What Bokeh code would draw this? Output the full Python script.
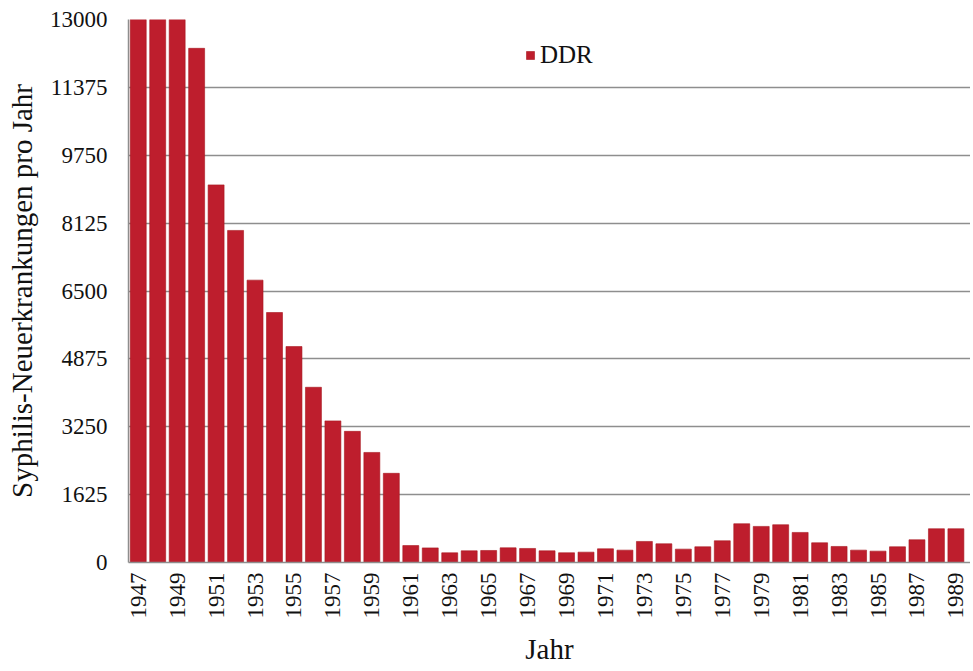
from bokeh.plotting import figure
from bokeh.models import Range1d, FixedTicker, Legend, LegendItem, ColumnDataSource
from bokeh.embed import file_html
from bokeh.resources import INLINE
import math

years = list(range(1947, 1990))
cases = [13000, 13000, 13000, 12310, 9040, 7950, 6760, 5985, 5170, 4195,
         3390, 3140, 2635, 2135, 405, 350, 232, 280, 288, 352,
         336, 280, 233, 248, 328, 296, 504, 448, 320, 376,
         520, 928, 864, 904, 720, 472, 384, 296, 272, 376,
         544, 808, 808]
y_ticks = [0, 1625, 3250, 4875, 6500, 8125, 9750, 11375, 13000]
x_ticks = list(range(1947, 1990, 2))

FONT = "Liberation Serif"
BAR = "#BE1E2D"
GRID = "#8E8E8E"

src = ColumnDataSource(dict(year=years, cases=cases))

p = figure(width=970, height=667, output_backend="svg", toolbar_location=None,
           x_range=Range1d(1946.5, 1989.75), y_range=Range1d(0, 13000),
           min_border_left=128, min_border_top=19, min_border_right=0,
           min_border_bottom=100)
p.outline_line_color = None
p.background_fill_color = "white"
p.border_fill_color = "white"

r = p.vbar(x="year", top="cases", width=0.82, source=src,
           fill_color=BAR, line_color="#A8161F", line_width=0.6)

p.xaxis.ticker = FixedTicker(ticks=x_ticks)
p.yaxis.ticker = FixedTicker(ticks=y_ticks)
p.xaxis.major_label_orientation = math.pi / 2
for ax in (p.xaxis[0], p.yaxis[0]):
    ax.major_tick_line_color = None
    ax.minor_tick_line_color = None
    ax.major_tick_out = 0
    ax.major_tick_in = 0
    ax.axis_line_color = GRID
    ax.axis_line_width = 1.5
    ax.major_label_text_font = FONT
    ax.major_label_text_font_size = "23px"
    ax.major_label_text_color = "#111111"
    ax.axis_label_text_font = FONT
    ax.axis_label_text_font_size = "29px"
    ax.axis_label_text_font_style = "normal"
    ax.axis_label_text_color = "#111111"
p.xaxis.axis_label = "Jahr"
p.yaxis.axis_label = "Syphilis-Neuerkrankungen pro Jahr"
p.xaxis.major_label_standoff = 10
p.yaxis.major_label_standoff = 21
p.xaxis.axis_label_standoff = 11
p.yaxis.axis_label_standoff = 9

p.xgrid.grid_line_color = None
p.ygrid.grid_line_color = GRID
p.ygrid.grid_line_width = 1.5

legend = Legend(items=[LegendItem(label="DDR", renderers=[r])],
                location=(397, 493), orientation="horizontal",
                padding=0, margin=0, spacing=0,
                glyph_width=10, glyph_height=10, label_standoff=5,
                label_text_font=FONT, label_text_font_size="25px",
                label_text_color="#111111", label_height=22,
                border_line_color=None, background_fill_alpha=0)
p.add_layout(legend)

open("out.html", "w").write(file_html(p, INLINE))
